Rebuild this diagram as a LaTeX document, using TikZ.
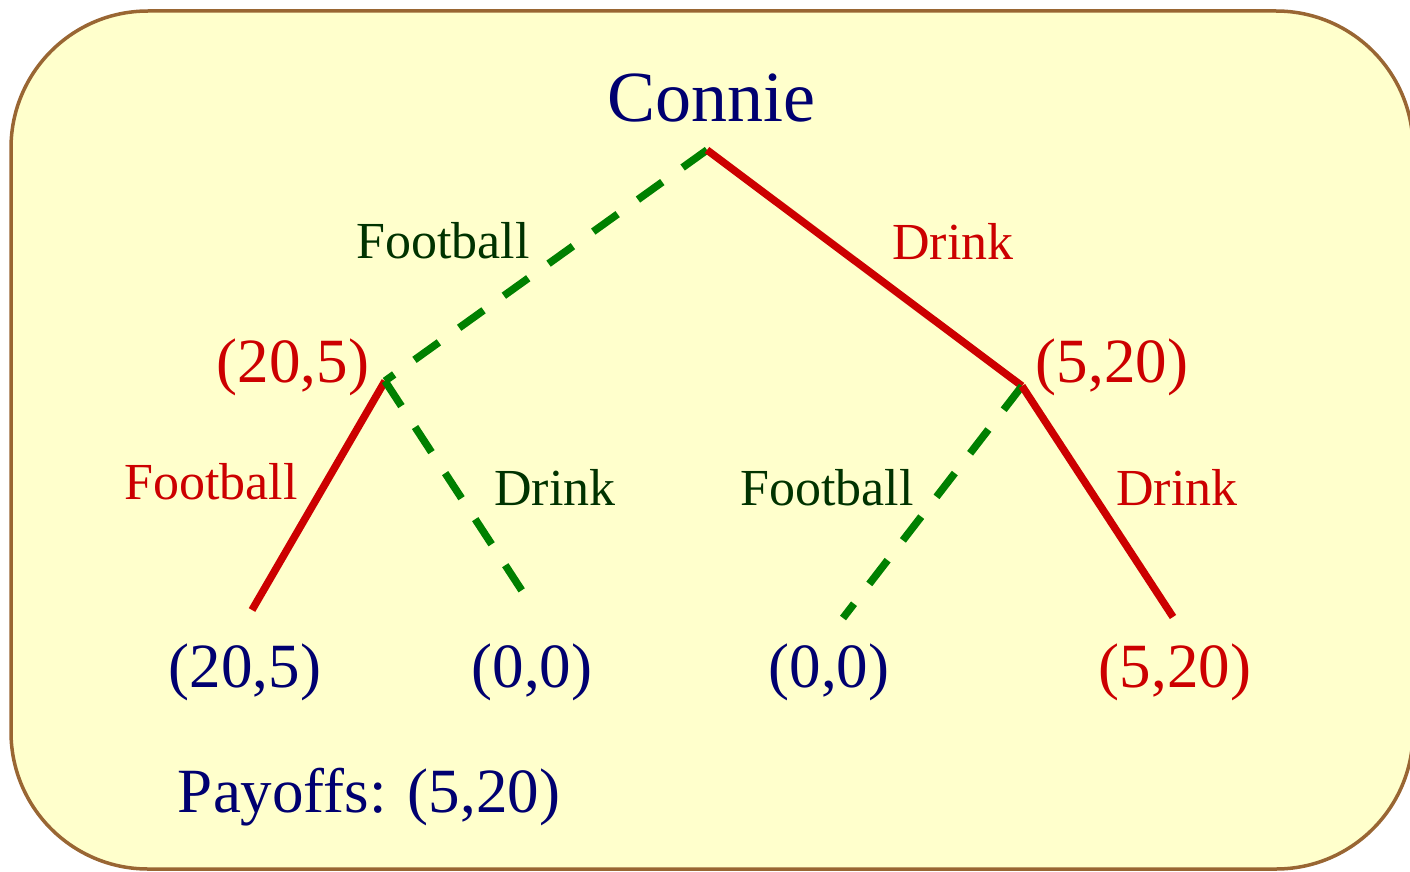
\documentclass[tikz,border=0pt]{standalone}
\usepackage{fontspec}
\setmainfont{Liberation Serif}
\usepackage{xcolor}

\definecolor{cardfill}{HTML}{FFFFCC}
\definecolor{cardedge}{HTML}{996633}
\definecolor{navytext}{HTML}{000070}
\definecolor{redline}{HTML}{CC0000}
\definecolor{greenline}{HTML}{008000}
\definecolor{greentext}{HTML}{003300}

\begin{document}
\begin{tikzpicture}[
    x=1pt, y=-1pt,
    lbl/.style={anchor=base, inner sep=0pt},
    player/.style={lbl, text=navytext, font=\fontsize{72}{80}\selectfont},
    pay/.style={lbl, font=\fontsize{63}{70}\selectfont},
    act/.style={lbl, font=\fontsize{52}{58}\selectfont},
    solid move/.style={draw=redline, line width=7.5pt},
    dash move/.style={draw=greenline, line width=7.5pt, dash pattern=on 30pt off 25pt}
]
    \useasboundingbox (0,0) rectangle (1410,872);

    % Card
    \draw[fill=cardfill, draw=cardedge, line width=3.5pt, rounded corners=137pt]
        (11,11) rectangle (1413,869);

    % Tree points
    \coordinate (root) at (707,150);
    \coordinate (lnode) at (385,381);
    \coordinate (rnode) at (1022,386);
    \coordinate (ll) at (252,610);
    \coordinate (lr) at (528,600);
    \coordinate (rl) at (843,618);
    \coordinate (rr) at (1173,617);

    % Moves
    \draw[dash move] (root) -- (lnode);
    \draw[solid move] (root) -- (rnode);
    \draw[solid move] (lnode) -- (ll);
    \draw[dash move] (lnode) -- (lr);
    \draw[dash move] (rnode) -- (rl);
    \draw[solid move] (rnode) -- (rr);

    % Player
    \node[player] (connie) at (711,122) {Connie};

    % Action labels
    \node[act, text=greentext] (footballtop) at (443,258) {Football};
    \node[act, text=redline] (drinktop) at (953,259) {Drink};
    \node[act, text=redline] (footballl) at (211,499) {Football};
    \node[act, text=greentext] (drinkl) at (555,505) {Drink};
    \node[act, text=greentext] (footballr) at (827,505) {Football};
    \node[act, text=redline] (drinkr) at (1177,505) {Drink};

    % Payoffs at the middle
    \node[pay, text=redline] (payl) at (293,382) {(20,5)};
    \node[pay, text=redline] (payr) at (1112,382) {(5,20)};

    % Payoffs at the leaves
    \node[pay, text=navytext] (payll) at (245,687) {(20,5)};
    \node[pay, text=navytext] (paylr) at (532,687) {(0,0)};
    \node[pay, text=navytext] (payrl) at (829,687) {(0,0)};
    \node[pay, text=redline] (payrr) at (1175,687) {(5,20)};

    % Result
    \node[pay, text=navytext] (result) at (369,812) {Payoffs: (5,20)};
\end{tikzpicture}
\end{document}
